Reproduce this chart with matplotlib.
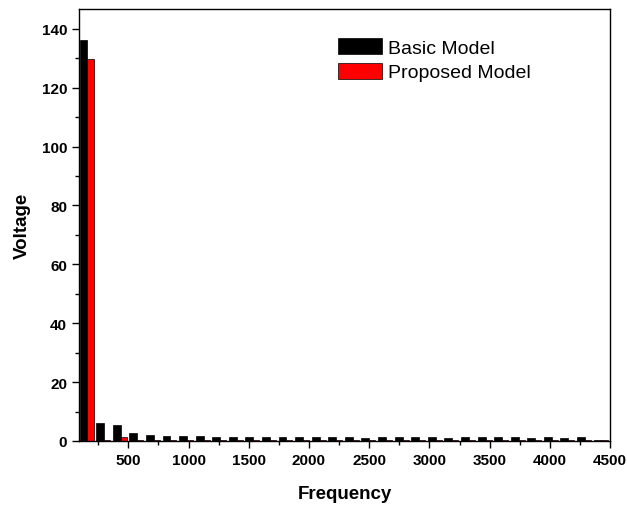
import numpy as np
import matplotlib
matplotlib.use("Agg")
import matplotlib.pyplot as plt
from matplotlib.ticker import MultipleLocator

# frequency of each harmonic group (black bar centre)
freq = [128, 266, 403, 541, 679, 817, 954, 1092, 1230, 1367, 1505, 1643,
        1780, 1918, 2056, 2194, 2331, 2469, 2607, 2744, 2882, 3020, 3157,
        3295, 3433, 3571, 3708, 3846, 3984, 4121, 4259, 4397]

basic = [136.2, 6.1, 5.3, 2.8, 2.1, 1.8, 1.8, 1.6, 1.4, 1.4, 1.3, 1.3,
         1.2, 1.3, 1.2, 1.3, 1.4, 1.1, 1.4, 1.2, 1.3, 1.2, 1.1, 1.3,
         1.3, 1.2, 1.3, 1.1, 1.2, 1.1, 1.2, 0.5]

proposed = [129.7, 0.3, 1.4, 0.3, 0.3, 0.3, 0.3, 0.3, 0.3, 0.3, 0.3, 0.3,
            0.3, 0.3, 0.3, 0.3, 0.3, 0.3, 0.3, 0.3, 0.3, 0.3, 0.3, 0.3,
            0.3, 0.3, 0.3, 0.3, 0.3, 0.3, 0.3, 0.3]

plt.rcParams['font.family'] = ['Liberation Sans', 'DejaVu Sans']
plt.rcParams['font.weight'] = 'bold'

fig = plt.figure(figsize=(6.27, 5.06), dpi=100)
ax = fig.add_axes([0.126, 0.1265, 0.847, 0.8535])

x = np.array(freq)
w_black = 66
w_red = 50
ax.bar(x, basic, width=w_black, color='black', edgecolor='black',
       linewidth=0.5, label='Basic Model')
ax.bar(x + w_black / 2 + w_red / 2, proposed, width=w_red, color='#ff0000',
       edgecolor='black', linewidth=0.5, label='Proposed Model')

ax.set_xlim(90.5, 4500)
ax.set_ylim(0, 146.7)
ax.xaxis.set_major_locator(MultipleLocator(500))
ax.xaxis.set_minor_locator(MultipleLocator(250))
ax.yaxis.set_major_locator(MultipleLocator(20))
ax.yaxis.set_minor_locator(MultipleLocator(10))
ax.set_xticks(np.arange(500, 4501, 500))

ax.tick_params(which='both', direction='out', top=False, right=False,
               labelsize=11, width=1)
ax.tick_params(which='major', length=5)
ax.tick_params(which='minor', length=3)
for lbl in ax.get_xticklabels() + ax.get_yticklabels():
    lbl.set_fontweight('bold')
for s in ax.spines.values():
    s.set_linewidth(1)

ax.set_xlabel('Frequency', fontsize=13.5, fontweight='bold', labelpad=13)
ax.set_ylabel('Voltage', fontsize=13.5, fontweight='bold', labelpad=8)

leg = ax.legend(loc='upper left', bbox_to_anchor=(338 / 627, 1 - 39 / 506),
                bbox_transform=fig.transFigure, frameon=False,
                prop={'size': 14, 'weight': 'normal'}, handlelength=2.27,
                handleheight=0.9, handletextpad=0.3, labelspacing=0.3,
                borderpad=0, borderaxespad=0)

fig.savefig('out.png', dpi=100)
